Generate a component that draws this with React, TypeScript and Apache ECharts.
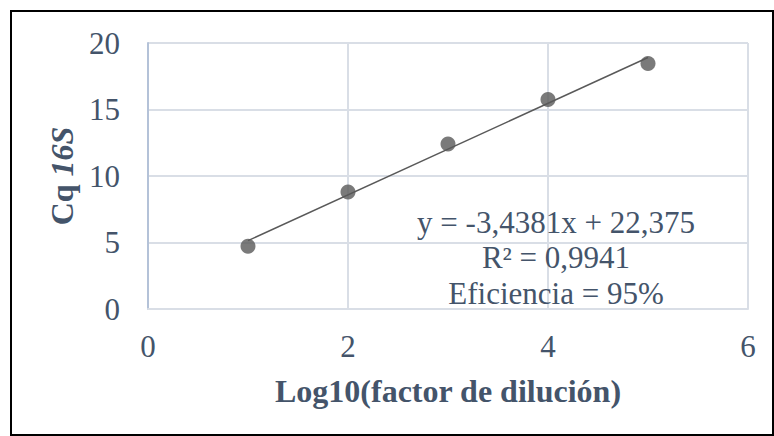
import React, { useEffect, useRef } from "react";
import * as echarts from "echarts";

const xValues = [1, 2, 3, 4, 5];
const cqValues = [4.72, 8.8, 12.4, 15.75, 18.45];
const xTicks = [0, 2, 4, 6];
const yTicks = [0, 5, 10, 15, 20];
const equationLines = ["y = -3,4381x + 22,375", "R² = 0,9941", "Eficiencia = 95%"];
const xAxisTitle = "Log10(factor de dilución)";

const FONT = "Liberation Serif";
const TEXT_COLOR = "#44546A";

function regression(xs: number[], ys: number[]) {
  const n = xs.length;
  const mx = xs.reduce((a, b) => a + b, 0) / n;
  const my = ys.reduce((a, b) => a + b, 0) / n;
  let sxy = 0;
  let sxx = 0;
  for (let i = 0; i < n; i++) {
    sxy += (xs[i] - mx) * (ys[i] - my);
    sxx += (xs[i] - mx) * (xs[i] - mx);
  }
  const slope = sxy / sxx;
  return { slope, intercept: my - slope * mx };
}

export default function App() {
  const ref = useRef<HTMLDivElement>(null);
  useEffect(() => {
    if (!ref.current) return;
    const chart = echarts.init(ref.current, undefined, { renderer: "svg" });
    const { slope, intercept } = regression(xValues, cqValues);
    const x0 = xValues[0];
    const x1 = xValues[xValues.length - 1];
    const trend = [
      [x0, intercept + slope * x0],
      [x1, intercept + slope * x1],
    ];
    chart.setOption({
      animation: false,
      backgroundColor: "#ffffff",
      textStyle: { fontFamily: FONT },
      grid: { left: 148, right: 26, top: 43, bottom: 127 },
      xAxis: {
        type: "value",
        min: xTicks[0],
        max: xTicks[xTicks.length - 1],
        interval: 2,
        name: xAxisTitle,
        nameLocation: "middle",
        nameGap: 66,
        nameTextStyle: { fontFamily: FONT, fontSize: 32, fontWeight: "bold", color: TEXT_COLOR },
        axisLine: { show: true, lineStyle: { color: "#D9DEE6", width: 2 } },
        axisTick: { show: false },
        axisLabel: { fontFamily: FONT, fontSize: 31, color: TEXT_COLOR, margin: 22 },
        splitLine: { show: true, lineStyle: { color: "#D9DEE6", width: 2 } },
      },
      yAxis: {
        type: "value",
        min: yTicks[0],
        max: yTicks[yTicks.length - 1],
        interval: 5,
        name: "{a|Cq }{b|16S}",
        nameLocation: "middle",
        nameGap: 64,
        nameTextStyle: {
          fontFamily: FONT,
          rich: {
            a: { fontFamily: FONT, fontSize: 32, fontWeight: "bold", color: TEXT_COLOR },
            b: { fontFamily: FONT, fontSize: 32, fontWeight: "bold", fontStyle: "italic", color: TEXT_COLOR },
          },
        },
        axisLine: { show: true, lineStyle: { color: "#B4C2D8", width: 2 } },
        axisTick: { show: false },
        axisLabel: { fontFamily: FONT, fontSize: 31, color: TEXT_COLOR, margin: 28 },
        splitLine: { show: true, lineStyle: { color: "#D9DEE6", width: 2 } },
      },
      series: [
        {
          type: "line",
          data: trend,
          showSymbol: false,
          symbol: "none",
          lineStyle: { color: "#595959", width: 1.5 },
          silent: true,
          z: 2,
        },
        {
          type: "scatter",
          data: xValues.map((x, i) => [x, cqValues[i]]),
          symbol: "circle",
          symbolSize: 15,
          itemStyle: { color: "#595959" },
          z: 3,
        },
      ],
      graphic: [
        {
          type: "rect",
          shape: { x: 11, y: 11, width: 762, height: 424 },
          style: { fill: "none", stroke: "#000000", lineWidth: 2 },
          silent: true,
        },
        ...equationLines.map((t, i) => ({
          type: "text",
          x: 556,
          y: 222 + i * 35.5,
          style: {
            text: t,
            fontFamily: FONT,
            fontSize: 31,
            fill: TEXT_COLOR,
            align: "center",
            verticalAlign: "middle",
          },
          z: 10,
        })),
      ],
    });
    return () => chart.dispose();
  }, []);
  return (
    <div
      ref={ref}
      style={{ position: "fixed", left: 0, top: 0, width: 774, height: 436 }}
    />
  );
}
